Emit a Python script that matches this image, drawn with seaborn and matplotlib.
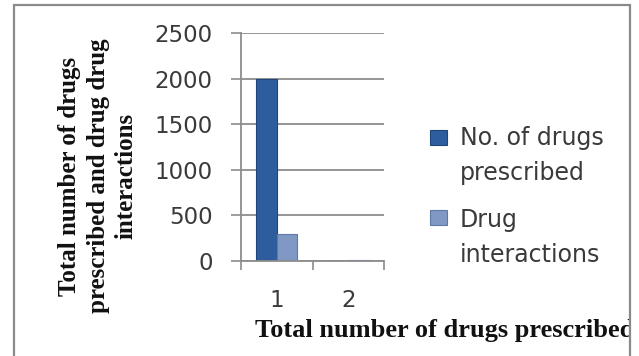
import matplotlib
matplotlib.use("Agg")
import matplotlib.pyplot as plt
import seaborn as sns
import pandas as pd
from matplotlib.patches import Rectangle, Patch
from matplotlib.legend_handler import HandlerPatch
from matplotlib.transforms import Bbox, TransformedBbox

# ---- data -------------------------------------------------------------
categories = ["1", "2"]
drugs_prescribed = [2000, 3]
drug_interactions = [300, 15]
series_names = ["No. of drugs\nprescribed", "Drug\ninteractions"]
y_ticks = [0, 500, 1000, 1500, 2000, 2500]
x_title = "Total number of drugs prescribed"
y_title = "Total number of drugs\nprescribed and drug drug\ninteractions"

df = pd.DataFrame({
    "group": categories * 2,
    "series": [series_names[0]] * len(categories) + [series_names[1]] * len(categories),
    "value": drugs_prescribed + drug_interactions,
})

sns.set_theme(style="white")
plt.rcParams["font.family"] = ["DejaVu Sans"]

W, H = 639, 356
fig = plt.figure(figsize=(W / 100, H / 100), dpi=100)
fig.patch.set_facecolor("white")

# plot area in pixel terms: x 241..384, y 33..261
ax = fig.add_axes([241 / W, 1 - 261 / H, (384 - 241) / W, (261 - 33) / H])

fill_colors = ["#2E5D9E", "#7F98C4"]
edge_colors = ["#1F4679", "#5F79A6"]

sns.barplot(data=df, x="group", y="value", hue="series", palette=fill_colors,
            hue_order=series_names, width=0.58, saturation=1, legend=False, ax=ax)

for bar in ax.patches:
    fc = bar.get_facecolor()
    idx = 0 if abs(fc[0] - 0x2E / 255) < 0.02 else 1
    bar.set_edgecolor(edge_colors[idx])
    bar.set_linewidth(0.8)

ax.set_xlim(-0.5, 1.5)
ax.set_ylim(0, 2500)
ax.set_yticks(y_ticks)
ax.set_facecolor("white")

axis_grey = "#8C8C8C"
ax.yaxis.grid(True, color=axis_grey, linewidth=1.3)
ax.set_axisbelow(True)
for side in ("top", "right"):
    ax.spines[side].set_visible(False)
for side in ("left", "bottom"):
    ax.spines[side].set_color(axis_grey)
    ax.spines[side].set_linewidth(1.3)

ax.tick_params(axis="y", which="major", direction="out", length=7, width=1.2,
               color=axis_grey, labelsize=16.5, labelcolor="#3A3A3A", pad=13.5, left=True)
# category boundary ticks on the x axis
ax.set_xticks([-0.5, 0.5, 1.5], minor=True)
ax.tick_params(axis="x", which="minor", direction="out", length=6.5, width=1.2,
               color=axis_grey, bottom=True)
ax.tick_params(axis="x", which="major", length=0, labelsize=16.5,
               labelcolor="#3A3A3A", pad=20)

serif = ["Liberation Serif", "DejaVu Serif"]
ax.set_xlabel(x_title, fontsize=19, fontweight="bold", family=serif,
              color="#111111", ha="left")
ax.xaxis.set_label_coords((255 - 241) / 143, (261 - 319) / 228)
# the chart frame cuts the long axis title at its right edge
ax.xaxis.label.set_clip_box(TransformedBbox(Bbox([[0, 0], [630 / W, 1]]), fig.transFigure))
ax.xaxis.label.set_clip_on(True)

ax.set_ylabel(y_title, fontsize=18, fontweight="bold", family=serif,
              color="#111111", va="center", linespacing=1.3)
ax.yaxis.set_label_coords((98 - 241) / 143, (261 - 176) / 228)

handles = [Patch(facecolor=fill_colors[i], edgecolor=edge_colors[i], linewidth=0.8)
           for i in range(2)]
# lift each legend square level with the first line of its two-line label
square_lift = [14.5, 16.0]


def first_line_square(legend, orig_handle, xdescent, ydescent, width, height, fontsize):
    side = 12.5
    lift = square_lift[handles.index(orig_handle)]
    return Rectangle((-xdescent, -ydescent + height - side + lift), side, side * 0.9)


leg = ax.legend(handles, series_names, loc="upper left",
                bbox_to_anchor=(430 / W, 1 - 126 / H), bbox_transform=fig.transFigure,
                frameon=False, fontsize=17, borderpad=0, borderaxespad=0,
                handlelength=0.75, handleheight=0.75, handletextpad=0.5,
                labelspacing=1.0,
                handler_map={Patch: HandlerPatch(patch_func=first_line_square)})
for t in leg.get_texts():
    t.set_color("#3A3A3A")
    t.set_linespacing(1.56)

# outer chart frame
fig.add_artist(Rectangle((14 / W, -0.05), (630 - 14) / W, 1.05 - 5 / H,
                         transform=fig.transFigure, fill=False,
                         edgecolor="#8A8A8A", linewidth=1.6))

fig.savefig("out.png", dpi=100, facecolor="white")
